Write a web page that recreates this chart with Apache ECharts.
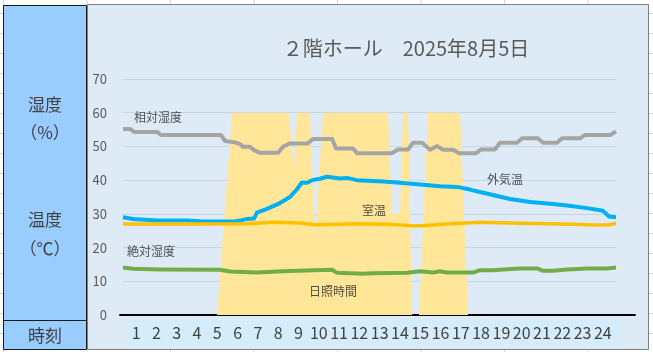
<!DOCTYPE html>
<html><head><meta charset="utf-8">
<script src="https://cdn.jsdelivr.net/npm/echarts@6/dist/echarts.min.js"></script>
<style>
html,body{margin:0;padding:0;}
body{width:653px;height:352px;overflow:hidden;background-color:#fff;
background-image:linear-gradient(to right,#d4d4d4 1px,transparent 1px),linear-gradient(to bottom,#d4d4d4 1px,transparent 1px);
background-size:83.5px 100%,100% 20px;background-position:3px 0,0 13px;}
#chart{position:absolute;left:0;top:0;width:653px;height:352px;}
</style></head>
<body><div id="chart"></div>
<script>
// ---- data (hour of day, value) ----
const hourLabels = ['1','2','3','4','5','6','7','8','9','10','11','12','13','14','15','16','17','18','19','20','21','22','23','24'];
const yTicks = [0,10,20,30,40,50,60,70];
const relHumidity = [[0,55.2],[0.34,55.2],[0.54,54.3],[1.66,54.3],[1.85,53.4],[4.77,53.4],[4.97,51.6],[5.45,51.2],[5.7,50.7],[5.84,49.9],[6.18,49.9],[6.38,48.9],[6.67,48.1],[7.55,48.1],[7.79,49.9],[8.13,50.9],[9.0,50.9],[9.25,52.2],[10.18,52.2],[10.37,49.4],[11.2,49.4],[11.39,48.0],[13.1,48.0],[13.39,49.1],[13.88,49.1],[14.12,51.1],[14.56,51.1],[14.95,49.0],[15.29,50.1],[15.58,49.0],[16.07,49.0],[16.36,48.0],[17.19,48.0],[17.43,49.1],[18.11,49.1],[18.35,51.1],[19.18,51.1],[19.43,52.4],[20.2,52.4],[20.45,51.1],[21.13,51.1],[21.37,52.4],[22.25,52.4],[22.49,53.4],[23.71,53.4],[24,54.4]];
const outsideTemp = [[0,29.0],[0.49,28.5],[1.66,28.0],[3.12,28.0],[3.75,27.8],[5.36,27.7],[5.7,28.0],[6.04,28.5],[6.38,28.6],[6.52,30.4],[7.01,31.5],[7.64,33.2],[8.13,35.0],[8.47,37.3],[8.71,39.3],[8.96,39.2],[9.2,40.0],[9.59,40.4],[9.93,41.0],[10.56,40.5],[10.95,40.6],[11.39,40.0],[12.66,39.6],[13.34,39.3],[14.46,38.7],[15.43,38.2],[16.26,38.0],[16.89,37.2],[17.38,36.5],[18.01,35.6],[18.84,34.4],[19.82,33.5],[20.93,32.9],[21.62,32.5],[22.59,31.7],[23.37,30.9],[23.66,29.2],[24,29.0]];
const roomTemp = [[0,27.0],[3.75,27.0],[6.04,27.1],[6.67,27.3],[7.4,27.5],[8.62,27.3],[9.35,26.8],[10.56,26.9],[11.2,27.1],[12.85,26.9],[14.12,26.5],[14.56,26.5],[15.77,27.0],[17.38,27.5],[19.33,27.2],[21.91,26.9],[22.98,26.7],[23.71,26.8],[24,27.2]];
const absHumidity = [[0,14.1],[0.49,13.7],[1.8,13.5],[4.72,13.4],[5.21,12.9],[6.52,12.6],[7.79,13.0],[9.25,13.3],[10.18,13.4],[10.42,12.5],[11.68,12.2],[12.17,12.4],[13.83,12.5],[14.46,13.0],[15.09,12.6],[15.43,13.0],[15.77,12.6],[17.04,12.6],[17.38,13.3],[18.01,13.3],[18.7,13.6],[19.33,13.8],[20.16,13.8],[20.45,13.1],[20.93,13.1],[21.62,13.5],[22.59,13.8],[23.56,13.8],[24,14.1]];
const sunshine = [[0,0],[4.58,0],[5.31,60],[8.08,60],[8.33,43],[8.47,60],[9.10,60],[9.35,22],[9.74,60],[12.90,60],[13.09,30],[13.49,30],[13.63,60],[13.88,60],[14.07,0],[14.41,0],[14.85,60],[16.41,60],[16.80,0],[24,0]];
const seriesLabels = [[1.70,58.7,'相対湿度'],[18.6,40.3,'外気温'],[12.22,30.9,'室温'],[1.36,19.0,'絶対湿度'],[10.22,7.1,'日照時間']];
const titleText = '２階ホール　2025年8月5日';

const FONT = '"Noto Sans CJK JP","Noto Sans",sans-serif';
const chart = echarts.init(document.getElementById('chart'), null, {renderer:'canvas'});
const lineS = (name, data, color, w) => ({
  name, type:'line', data, xAxisIndex:0, yAxisIndex:0, showSymbol:false, symbol:'none',
  lineStyle:{color, width:w, join:'round'}, z:3, silent:true
});
chart.setOption({
  animation:false,
  title:{text:titleText, left:401, top:33, textAlign:'center',
    textStyle:{fontFamily:FONT, fontSize:20, fontWeight:'normal', color:'#595959'}},
  graphic:[
    {type:'rect', z:-20, shape:{x:87.5,y:4.5,width:561,height:345}, style:{fill:'#DEEBF7', stroke:'#7F7F7F', lineWidth:1}},
    {type:'rect', z:-20, shape:{x:3.5,y:5.5,width:83,height:315}, style:{fill:'#99CCFF', stroke:'#1a1a1a', lineWidth:1}},
    {type:'rect', z:-20, shape:{x:3.5,y:320.5,width:83,height:29}, style:{fill:'#99CCFF', stroke:'#1a1a1a', lineWidth:1}},
    {type:'rect', z:-19, shape:{x:128,y:319,width:493,height:27}, style:{fill:'#D5EDFB'}},
    {type:'text', z:5, x:45, y:105, style:{text:'湿度', font:'17px '+FONT, fill:'#404040', textAlign:'center', textVerticalAlign:'middle'}},
    {type:'text', z:5, x:45, y:133, style:{text:'（%）', font:'17px '+FONT, fill:'#404040', textAlign:'center', textVerticalAlign:'middle'}},
    {type:'text', z:5, x:45, y:220, style:{text:'温度', font:'17px '+FONT, fill:'#404040', textAlign:'center', textVerticalAlign:'middle'}},
    {type:'text', z:5, x:45, y:249, style:{text:'（℃）', font:'17px '+FONT, fill:'#404040', textAlign:'center', textVerticalAlign:'middle'}},
    {type:'text', z:5, x:45, y:336, style:{text:'時刻', font:'17px '+FONT, fill:'#404040', textAlign:'center', textVerticalAlign:'middle'}}
  ],
  grid:[
    {left:123, right:37, top:79, bottom:37},
    {left:126, width:487, top:315, height:1},
    {left:120, right:18, top:315, height:1}
  ],
  xAxis:[
    {type:'value', gridIndex:0, min:0, max:24, show:false},
    {type:'category', gridIndex:1, data:hourLabels, boundaryGap:true,
      axisLine:{show:false}, axisTick:{show:false}, splitLine:{show:false},
      axisLabel:{interval:0, margin:9, fontSize:16, fontFamily:FONT, color:'#404040'}},
    {type:'value', gridIndex:2, min:0, max:1, position:'top',
      axisLine:{show:true, onZero:false, lineStyle:{color:'#000', width:2}},
      axisTick:{show:false}, axisLabel:{show:false}, splitLine:{show:false}}
  ],
  yAxis:[
    {type:'value', gridIndex:0, min:yTicks[0], max:yTicks[yTicks.length-1], interval:10,
      axisLine:{show:false}, axisTick:{show:false},
      axisLabel:{margin:16, fontSize:13, fontFamily:FONT, color:'#595959'},
      splitLine:{lineStyle:{color:'#CBD5E0', width:1}}},
    {type:'value', gridIndex:1, show:false},
    {type:'value', gridIndex:2, show:false}
  ],
  series:[
    {name:'日照時間', type:'line', data:sunshine, xAxisIndex:0, yAxisIndex:0, symbol:'none', showSymbol:false,
      lineStyle:{width:0, color:'#FFE699'}, areaStyle:{color:'#FFE699', opacity:1}, z:1, silent:true},
    lineS('相対湿度', relHumidity, '#A5A5A5', 4),
    lineS('外気温', outsideTemp, '#00B0F0', 4),
    lineS('室温', roomTemp, '#FFC000', 3.5),
    lineS('絶対湿度', absHumidity, '#70AD47', 4),
    {name:'labels', type:'scatter', xAxisIndex:0, yAxisIndex:0, data:seriesLabels, symbolSize:1,
      itemStyle:{color:'rgba(0,0,0,0)'}, z:5, silent:true,
      label:{show:true, position:'inside', formatter:p=>p.data[2], fontFamily:FONT, fontSize:12, color:'#262626'}}
  ]
});
</script></body></html>
